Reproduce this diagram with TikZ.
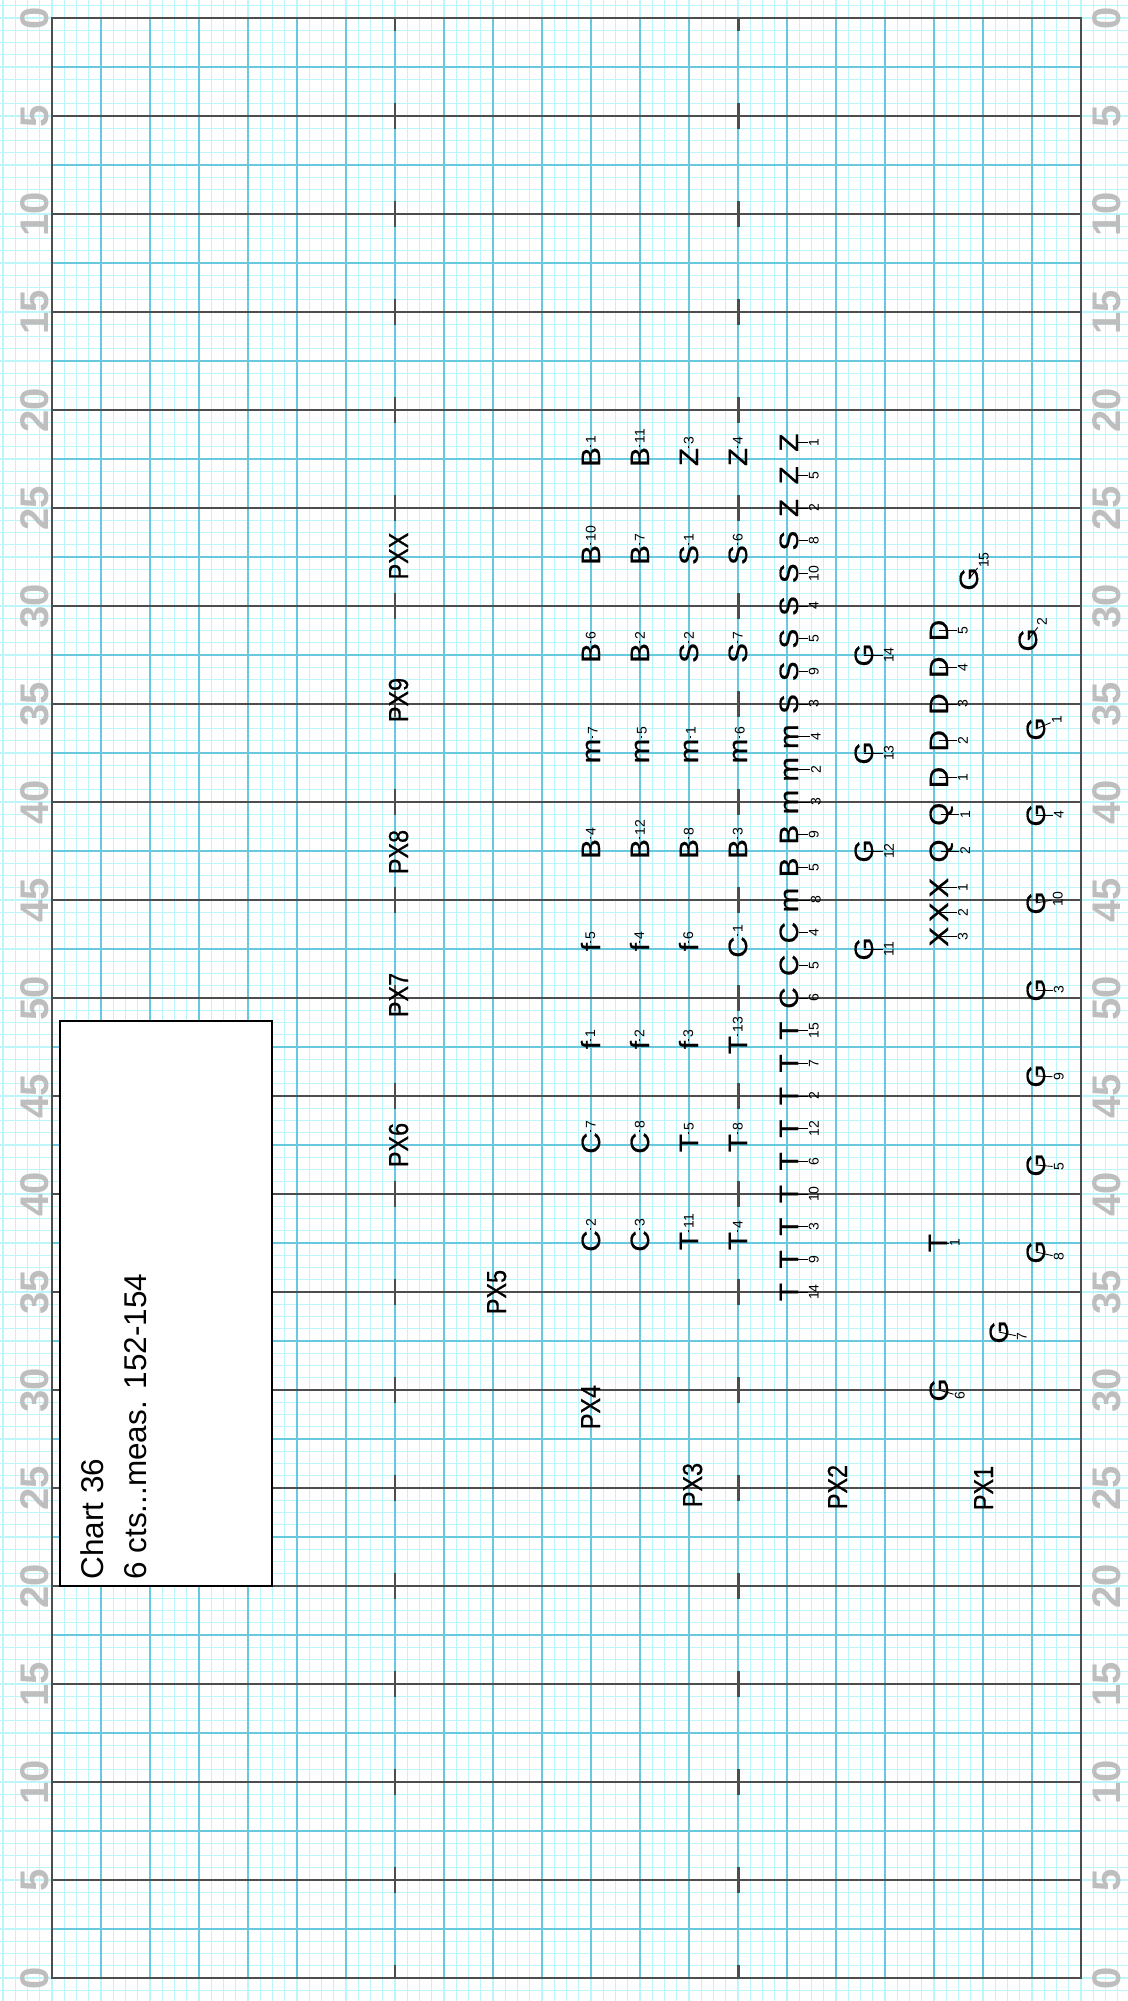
\documentclass[tikz,border=0pt]{standalone}
\usepackage{fontspec}
\setmainfont{Liberation Sans}
\newfontfamily\markfont[FakeStretch=1.12, FakeBold=0.6]{Liberation Sans}
\newfontfamily\pxfont[FakeStretch=0.85, FakeBold=0.6]{Liberation Sans}
\usetikzlibrary{calc}
\definecolor{gridfine}{RGB}{188, 246, 250}
\definecolor{gridblue}{RGB}{104, 200, 222}
\definecolor{griddark}{RGB}{77, 77, 77}
\definecolor{axisgray}{RGB}{190, 190, 190}

\begin{document}
\begin{tikzpicture}[x=0.02cm, y=-0.02cm,
    fine/.style={gridfine, line width=0.6pt},
    major/.style={gridblue, line width=1.1pt},
    heavy/.style={griddark, line width=1.1pt},
    lett/.style={rotate=90, anchor=base, inner sep=0pt, font=\fontsize{0.53cm}{0.6cm}\markfont},
    pxlab/.style={lett, font=\fontsize{0.55cm}{0.6cm}\pxfont},
    num/.style={rotate=90, inner sep=0.6pt, font=\fontsize{0.28cm}{0.3cm}\selectfont},
    pinline/.style={black, line width=0.5pt},
    axis/.style={rotate=90, axisgray, font=\fontsize{0.8cm}{0.9cm}\selectfont\bfseries}]
\useasboundingbox (0,0) rectangle (1128,2001);
\fill[white] (0,0) rectangle (1128,2001);

% Fine grid
\foreach \i in {0,...,91}
  \draw[fine] ({3+12.25*\i},0) -- ({3+12.25*\i},2001);
\foreach \i in {0,...,163}
  \draw[fine] (0,{5.75+12.25*\i}) -- (1128,{5.75+12.25*\i});

% Blue lines
\foreach \k in {1,...,20}
  \draw[major] ({52+49*\k},18) -- ({52+49*\k},1978);
\foreach \j in {1,3,...,39}
  \draw[major] (52,{18+49*\j}) -- (1081,{18+49*\j});

% Dark lines
\foreach \j in {2,4,...,38}
  \draw[heavy] (52,{18+49*\j}) -- (1081,{18+49*\j});
\draw[heavy] (52,18) rectangle (1081,1978);
\foreach \k in {7,14}
  \draw[griddark, line width=1.7pt, dash pattern=on 0.52cm off 1.44cm, dash phase=0.26cm]
    ({52+49*\k},18) -- ({52+49*\k},1978);

% Scale
\foreach \n in {0,...,20} {
  \pgfmathtruncatemacro{\v}{5*min(\n,20-\n)}
  \node[axis] (l\n) at (35,{18+98*\n}) {\v};
  \node[axis] (r\n) at (1107,{18+98*\n}) {\v};
}

% Title
\node[draw=black, fill=white, line width=1pt, inner sep=0pt, minimum width=4.24cm, minimum height=11.3cm]
  (chart) at (166,1303.5) {};
\node[rotate=90, anchor=north west, align=left, inner sep=0pt, font=\fontsize{0.63cm}{0.86cm}\selectfont]
  (chartlab) at (80,1580) {Chart 36\\6 cts...meas. 152-154};

% PX row
\foreach \nm/\t/\x/\y in {pxx/PXX/408/556, px9/PX9/408/700, px8/PX8/408/852, px7/PX7/408/995,
    px6/PX6/408/1145, px5/PX5/506/1292, px4/PX4/600/1407, px3/PX3/702/1485,
    px2/PX2/847/1487, px1/PX1/993/1488}
  \node[pxlab] (\nm) at (\x,\y) {\t};

% Blocks
\foreach \c/\x/\list in {
    a/600/{B/1,B/10,B/6,m/7,B/4,f/5,f/1,C/7,C/2},
    b/649/{B/11,B/7,B/2,m/5,B/12,f/4,f/2,C/8,C/3},
    c/698/{Z/3,S/1,S/2,m/1,B/8,f/6,f/3,T/5,T/11},
    d/747/{Z/4,S/6,S/7,m/6,B/3,C/1,T/13,T/8,T/4}}
  \foreach \l/\n [count=\r from 0] in \list {
    \node[lett] (\c\r) at (\x,{457+98*\r}) {\l};
    \node[num, anchor=west] (n\c\r) at ([shift={(0,-2)}]\c\r.east) {\n};
    \draw[pinline] (\c\r.east) -- (n\c\r);
  };

% Stack
\foreach \l/\n [count=\r from 0] in {Z/1,Z/5,Z/2,S/8,S/10,S/4,S/5,S/9,S/3,m/4,m/2,m/3,B/9,B/5,
    m/8,C/4,C/5,C/6,T/15,T/7,T/2,T/12,T/6,T/10,T/3,T/9,T/14} {
  \node[lett] (s\r) at (798,{442.67+32.667*\r}) {\l};
  \node[num] (ns\r) at ([shift={(25,0)}]s\r.center) {\n};
  \draw[pinline] (s\r) -- (ns\r);
}

% Single marks
\foreach \nm/\l/\n/\x/\y/\dx/\dy in {
    d5/D/5/948/630.5/24/0, d4/D/4/948/667.25/24/0, d3/D/3/948/704/24/0,
    d2/D/2/948/740.75/24/0, d1/D/1/948/777.5/24/0, q1/Q/1/948/814.25/24/0,
    q2/Q/2/948/851/24/0, x1/X/1/948/887.75/24/0, x2/X/2/948/912.25/24/0,
    x3/X/3/948/936.75/24/0, t1/T/1/947/1243/17/0,
    g14/G/14/873/655/25/0, g13/G/13/873/753/25/0, g12/G/12/873/851/25/0, g11/G/11/873/949/25/0,
    g15/G/15/978/579/15/-19, g2/G/2/1037/640/14/-18, g1/G/1/1045/729/21/-9,
    g4/G/4/1045/815/23/0, g10/G/10/1045/903/22/-4, g3/G/3/1045/990/23/0,
    g9/G/9/1045/1076/23/1, g5/G/5/1045/1165/23/2, g8/G/8/1045/1252/23/5,
    g7/G/7/1008/1332/23/5, g6/G/6/948/1390/21/6} {
  \node[lett] (\nm) at (\x,\y) {\l};
  \node[num] (n\nm) at ([shift={(\dx,\dy)}]\nm.center) {\n};
  \draw[pinline] (\nm.center) -- (n\nm);
}
\end{tikzpicture}
\end{document}
